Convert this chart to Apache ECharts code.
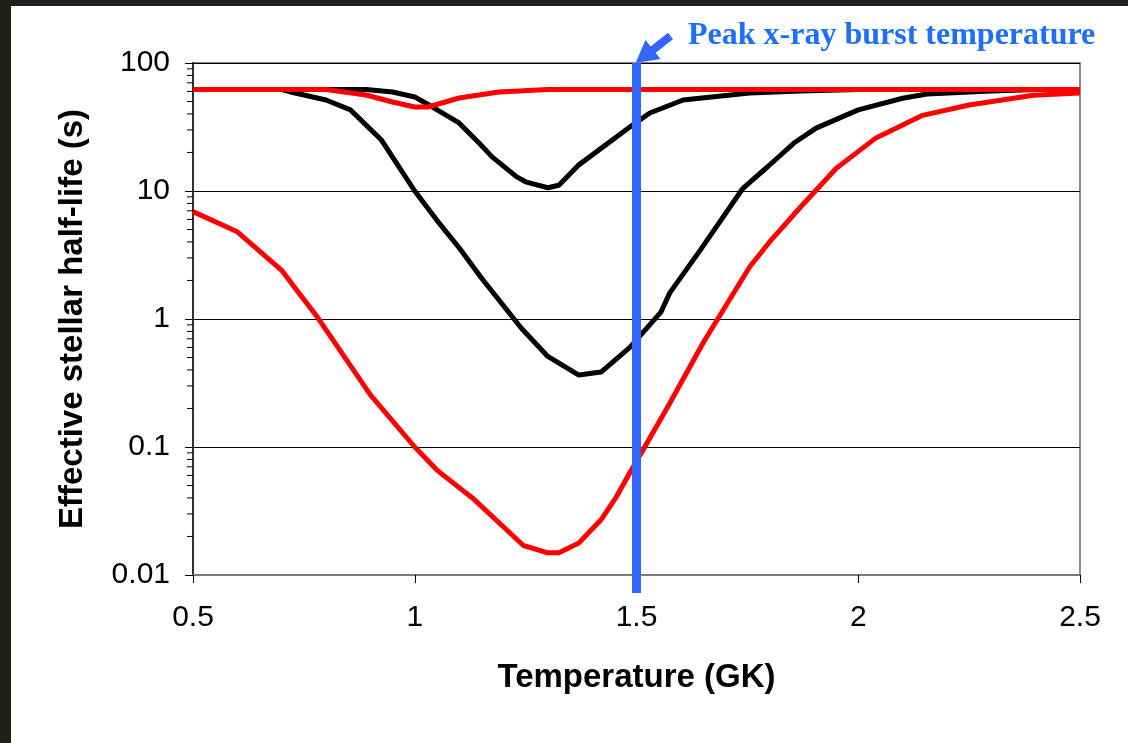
<!DOCTYPE html>
<html>
<head>
<meta charset="utf-8">
<script src="https://cdn.jsdelivr.net/npm/echarts@6/dist/echarts.min.js"></script>
<style>
html,body{margin:0;padding:0;background:#1f211c;}
#chart{width:1128px;height:743px;}
</style>
</head>
<body>
<div id="chart"></div>
<script>
// ---- data (Temperature in GK, effective stellar half-life in s) ----
const blackShallowT = [0.5,0.89,0.95,1.0,1.04,1.1,1.145,1.175,1.23,1.25,1.3,1.325,1.37,1.485,1.53,1.605,1.755,1.87,2.0,2.5];
const blackShallowV = [62,62,59.4,54.3,45.3,34,23.7,18.4,12.9,11.8,10.6,11.1,16,31.6,40.7,51.4,58.3,60.4,62,62];

const blackDeepT = [0.5,0.7,0.72,0.8,0.855,0.925,0.95,1.0,1.05,1.1,1.15,1.24,1.3,1.37,1.42,1.485,1.555,1.575,1.645,1.74,1.795,1.855,1.905,2.0,2.1,2.155,2.3,2.4,2.5];
const blackDeepV = [62,62,59.4,51.4,43,25,18.4,10.0,5.9,3.6,2.1,0.85,0.51,0.365,0.385,0.6,1.13,1.6,3.5,10.5,15.4,23.7,31,43,53,57.3,60.5,62,62];

const redDeepT = [0.5,0.6,0.7,0.725,0.78,0.9,1.0,1.05,1.13,1.245,1.3,1.325,1.37,1.42,1.455,1.485,1.515,1.575,1.65,1.755,1.8,1.87,1.95,2.04,2.145,2.25,2.395,2.5];
const redDeepV = [6.9,4.8,2.4,1.84,1.04,0.255,0.1,0.066,0.04,0.017,0.0149,0.0149,0.0178,0.027,0.041,0.063,0.095,0.22,0.65,2.55,4.0,7.5,15,26,39,47,56,58.3];

const redShallowT = [0.5,0.8,0.89,0.95,1.0,1.03,1.1,1.145,1.19,1.3,2.5];
const redShallowV = [62,62,56.2,49.6,45.3,45.3,53.3,56.2,59.4,62,62];

const peakT = 1.5;
const xTicks = [0.5, 1, 1.5, 2, 2.5];
const yTicks = [0.01, 0.1, 1, 10, 100];
const xTitle = 'Temperature (GK)';
const yTitle = 'Effective stellar half-life (s)';
const annotation = 'Peak x-ray burst temperature';

// ---- helpers ----
const zip = (t, v) => t.map((x, i) => [x, v[i]]);
const minorVals = [];
for (let d = 0; d < yTicks.length - 1; d++) {
  for (let m = 2; m <= 9; m++) minorVals.push([xTicks[0], +(yTicks[d] * m).toPrecision(3)]);
}

const chart = echarts.init(document.getElementById('chart'));
const lineW = 5;
const BLUE = '#3366FF';

chart.setOption({
  animation: false,
  backgroundColor: '#1f211c',
  graphic: [
    { type: 'rect', z: -10, shape: { x: 11, y: 6, width: 1117, height: 737 }, style: { fill: '#ffffff' } },
    { type: 'text', z: 100, left: 688, top: 20,
      style: { text: annotation, font: 'bold 32px "Liberation Serif", "Times New Roman", serif', fill: '#1E6EFF' } }
  ],
  grid: { left: 193, top: 63, width: 887, height: 512, show: true, borderColor: '#8a8a8a', borderWidth: 2, backgroundColor: 'transparent' },
  xAxis: {
    type: 'value', min: 0.5, max: 2.5, interval: 0.5,
    name: xTitle, nameLocation: 'middle', nameGap: 86,
    nameTextStyle: { fontFamily: 'Liberation Sans, Arial', fontWeight: 'bold', fontSize: 33, color: '#000' },
    axisLine: { lineStyle: { color: '#7a7a7a', width: 2 } },
    axisTick: { length: 8, lineStyle: { color: '#000', width: 1 } },
    axisLabel: { fontFamily: 'Liberation Sans, Arial', fontSize: 30, color: '#000', margin: 28 },
    splitLine: { show: false }
  },
  yAxis: {
    type: 'log', logBase: 10, min: 0.01, max: 100,
    name: yTitle, nameLocation: 'middle', nameGap: 104,
    nameTextStyle: { fontFamily: 'Liberation Sans, Arial', fontWeight: 'bold', fontSize: 33, color: '#000' },
    axisLine: { show: true, lineStyle: { color: '#303030', width: 2 } },
    axisTick: { show: true, length: 8, lineStyle: { color: '#000', width: 1 } },
    axisLabel: { fontFamily: 'Liberation Sans, Arial', fontSize: 30, color: '#000', margin: 23,
      formatter: v => String(+v.toPrecision(3)) },
    splitLine: { show: true, lineStyle: { color: '#000', width: 1 } }
  },
  series: [
    { type: 'custom', name: 'minorTicks', data: minorVals, z: 5, silent: true,
      renderItem: (params, api) => {
        const p = api.coord([api.value(0), api.value(1)]);
        return { type: 'line', shape: { x1: p[0] - 6, y1: p[1], x2: p[0], y2: p[1] }, style: { stroke: '#000', lineWidth: 1 } };
      } },
    { type: 'line', name: 'deep black', data: zip(blackDeepT, blackDeepV), showSymbol: false, symbol: 'none',
      lineStyle: { color: '#000', width: lineW }, z: 2 },
    { type: 'line', name: 'shallow black', data: zip(blackShallowT, blackShallowV), showSymbol: false, symbol: 'none',
      lineStyle: { color: '#000', width: lineW }, z: 3 },
    { type: 'line', name: 'deep red', data: zip(redDeepT, redDeepV), showSymbol: false, symbol: 'none',
      lineStyle: { color: '#ff0000', width: lineW }, z: 4 },
    { type: 'line', name: 'shallow red', data: zip(redShallowT, redShallowV), showSymbol: false, symbol: 'none',
      lineStyle: { color: '#ff0000', width: lineW }, z: 5 },
    { type: 'custom', name: 'peak', data: [[peakT, yTicks[yTicks.length - 1]]], z: 20, silent: true, clip: false,
      renderItem: (params, api) => {
        const top = api.coord([api.value(0), yTicks[yTicks.length - 1]]);
        const bot = api.coord([api.value(0), yTicks[0]]);
        const tx = top[0], ty = top[1];
        return { type: 'group', children: [
          { type: 'line', shape: { x1: tx, y1: ty, x2: bot[0], y2: bot[1] + 18 }, style: { stroke: BLUE, lineWidth: 9 } },
          { type: 'line', shape: { x1: tx + 15, y1: ty - 12, x2: tx + 34, y2: ty - 27 }, style: { stroke: BLUE, lineWidth: 8 } },
          { type: 'polygon', shape: { points: [[tx - 1, ty], [tx + 9, ty - 23], [tx + 24, ty - 4]] }, style: { fill: BLUE } }
        ] };
      } }
  ]
});
</script>
</body>
</html>
